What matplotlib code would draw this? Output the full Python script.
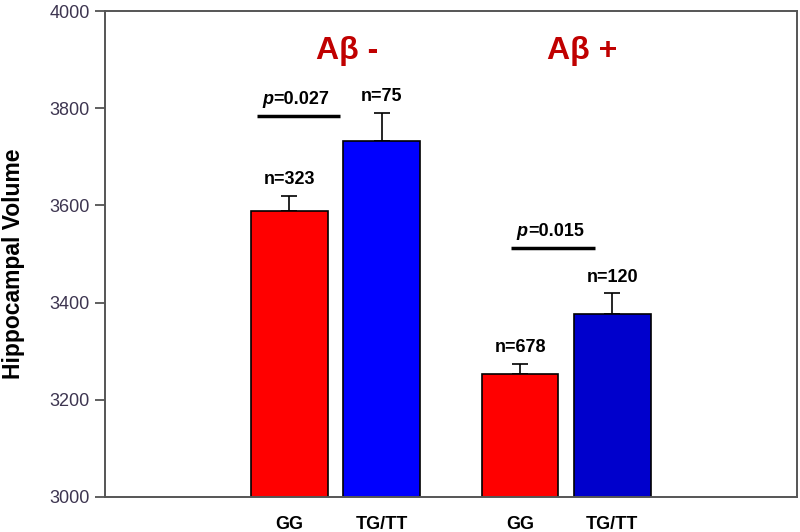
import matplotlib
matplotlib.use('Agg')
import matplotlib.pyplot as plt
import numpy as np

plt.rcParams['font.family'] = ['Liberation Sans', 'DejaVu Sans']

# data
groups = ['GG', 'TG/TT', 'GG', 'TG/TT']
volumes = [3589, 3732, 3253, 3376]
sem = [30, 59, 21, 43]
n_labels = ['n=323', 'n=75', 'n=678', 'n=120']
bar_colors = ['#FF0000', '#0000FF', '#FF0000', '#0000CC']
positions = [1, 2, 3.5, 4.5]
panel_titles = ['A\u03b2 -', 'A\u03b2 +']
p_values = ['=0.027', '=0.015']

fig = plt.figure(figsize=(8, 5.32), dpi=100)
ax = fig.add_axes([0.131, 0.066, 0.865, 0.913])

ax.errorbar(positions, volumes, yerr=[np.zeros(4), sem], fmt='none',
            ecolor='black', elinewidth=1.2, capsize=6, capthick=1.2, zorder=1)
ax.bar(positions, volumes, width=0.83, color=bar_colors, edgecolor='black',
       linewidth=1.2, zorder=2)

ax.set_xlim(-1.0, 6.5)
ax.set_ylim(3000, 4000)
ax.set_yticks([3000, 3200, 3400, 3600, 3800, 4000])
ax.set_xticks(positions)
ax.set_xticklabels(groups, fontsize=13, fontweight='bold')
ax.tick_params(axis='x', length=0, pad=14)
ax.tick_params(axis='y', length=7, width=1.2, direction='out', labelsize=13,
               labelcolor='#3d3550', color='#444444', pad=4)
for side in ['left', 'bottom', 'top', 'right']:
    ax.spines[side].set_color('#555555')
    ax.spines[side].set_linewidth(1.4)

# y label placed in figure coords so it sits at the far left like the original
fig.text(0.017, 0.505, 'Hippocampal Volume', rotation=90, ha='center',
         va='center', fontsize=16.5, fontweight='bold')

# n labels above error bars
for x, v, e, lab in zip(positions, volumes, sem, n_labels):
    ax.text(x, v + e + 16, lab, ha='center', va='bottom', fontsize=13,
            fontweight='bold')

# group titles
ax.text(1.63, 3918, panel_titles[0], ha='center', va='center', fontsize=23,
        fontweight='bold', color='#C00000', family=['Liberation Sans'])
ax.text(4.17, 3918, panel_titles[1], ha='center', va='center', fontsize=23,
        fontweight='bold', color='#C00000', family=['Liberation Sans'])

# significance lines
sig_x = [(0.65, 1.55), (3.40, 4.31)]
sig_y = [3784, 3512]
for (x0, x1), y, pv in zip(sig_x, sig_y, p_values):
    ax.plot([x0, x1], [y, y], color='black', lw=2.5, solid_capstyle='butt')
    xm = (x0 + x1) / 2 - 0.27
    ax.text(xm, y + 16, 'p', ha='right', va='bottom', fontsize=13,
            fontweight='bold', style='italic')
    ax.text(xm, y + 16, pv, ha='left', va='bottom', fontsize=13,
            fontweight='bold')

fig.savefig('out.png', dpi=100)
